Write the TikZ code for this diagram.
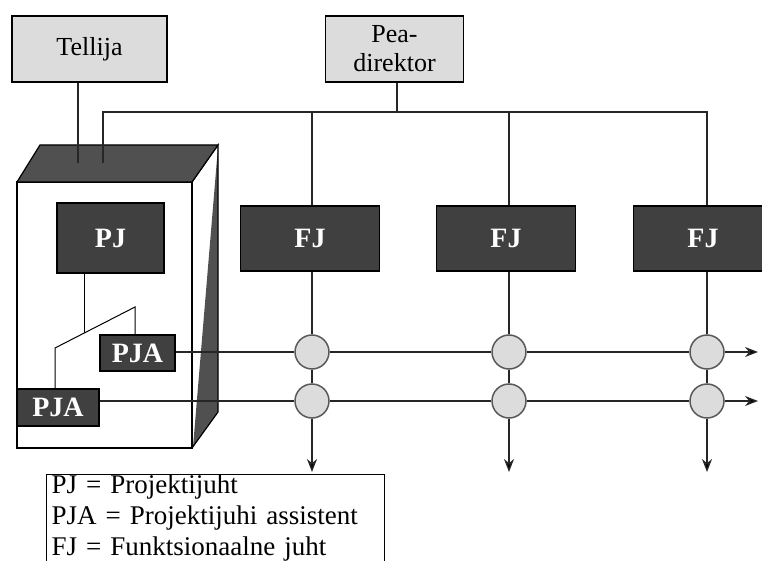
\documentclass[tikz,border=0pt]{standalone}
\usepackage{fontspec}
\setmainfont{Liberation Serif}
\usetikzlibrary{arrows.meta}
\definecolor{lightfill}{HTML}{DCDCDC}
\definecolor{fjfill}{HTML}{404040}
\definecolor{facefill}{HTML}{505050}
\begin{document}
\begin{tikzpicture}[x=1pt, y=-1pt,
	lightbox/.style={draw, line width=1.5pt, fill=lightfill, align=center, inner sep=0pt,
		font=\fontsize{26}{29}\selectfont},
	darkbox/.style={draw, line width=1.2pt, fill=fjfill, text=white, inner sep=0pt,
		font=\fontsize{28}{30}\selectfont\bfseries},
	knot/.style={circle, draw=black!65, line width=1.5pt, fill=lightfill, minimum size=34pt, inner sep=0pt},
	ln/.style={line width=1.3pt, draw=black!85},
	>={Stealth[length=13pt, width=10pt]}]
		\useasboundingbox (0,0) rectangle (762,561);
		\clip (0,0) rectangle (762,561);
		% top boxes
		\node [lightbox, minimum width=155pt, minimum height=66pt] (tellija) at (89.5,49) {Tellija};
		\node [lightbox, minimum width=138pt, minimum height=66pt] (pea) at (394.5,49) {Pea-\\direktor};
		% project box
		\fill[white] (17,182) rectangle (192,448);
		\fill[facefill] (218,147) -- (218,412) -- (193,447) -- cycle;
		\draw[line width=1.2pt] (17,182) rectangle (192,448);
		\draw[line width=1.2pt] (192,182) -- (218,145) -- (218,412) -- (192,448);
		\filldraw[fill=facefill, line width=1.2pt] (17,182) -- (40,145) -- (218,145) -- (192,182) -- cycle;
		\node [darkbox, minimum width=107pt, minimum height=70pt] (pj) at (110.5,238) {PJ};
		\node [darkbox, minimum width=75pt, minimum height=36pt] (pja1) at (137.5,353) {PJA};
		\node [darkbox, minimum width=82pt, minimum height=37pt] (pja2) at (58,407.5) {PJA};
		% functional managers
		\node [darkbox, minimum width=139pt, minimum height=65pt] (fj1) at (310,238.5) {FJ};
		\node [darkbox, minimum width=139pt, minimum height=65pt] (fj2) at (506,238.5) {FJ};
		\node [darkbox, minimum width=139pt, minimum height=65pt] (fj3) at (703,238.5) {FJ};
		\node [knot] (k11) at (312,352) {};
		\node [knot] (k12) at (509,352) {};
		\node [knot] (k13) at (707,352) {};
		\node [knot] (k21) at (312,401) {};
		\node [knot] (k22) at (509,401) {};
		\node [knot] (k23) at (707,401) {};
		% free ends
		\coordinate (tt) at (78,163);
		\coordinate (tb) at (103,163);
		\coordinate (tl) at (103,112);
		\coordinate (t1) at (312,112);
		\coordinate (t2) at (509,112);
		\coordinate (t3) at (707,112);
		\coordinate (p1) at (84,333);
		\coordinate (p2) at (55,348);
		\coordinate (p3) at (135,307);
		\coordinate (r1) at (758,352);
		\coordinate (r2) at (758,401);
		\coordinate (d1) at (312,472);
		\coordinate (d2) at (509,472);
		\coordinate (d3) at (707,472);
		% lines
		\draw[ln] (tellija.south -| tt) -- (tt);
		\draw[ln] (tb) -- (tl) -- (t3) -- (fj3.north -| t3);
		\draw[ln] (pea.south -| 397,0) -- (397,112);
		\draw[ln] (t1) -- (fj1.north -| t1);
		\draw[ln] (t2) -- (fj2.north -| t2);
		\draw[line width=1pt] (pj.south -| p1) -- (p1);
		\draw[line width=1pt] (pja2.north -| p2) -- (p2) -- (p3) -- (pja1.north -| p3);
		\path[ln]
					(pja1.east |- k11) edge (k11)
					(k11) edge (k12)
					(k12) edge (k13)
					(k13) edge[->] (r1)
					(pja2.east |- k21) edge (k21)
					(k21) edge (k22)
					(k22) edge (k23)
					(k23) edge[->] (r2)
					(fj1.south -| k11) edge (k11)
					(k11) edge (k21)
					(k21) edge[->] (d1)
					(fj2.south -| k12) edge (k12)
					(k12) edge (k22)
					(k22) edge[->] (d2)
					(fj3.south -| k13) edge (k13)
					(k13) edge (k23)
					(k23) edge[->] (d3);
		% legend
		\node [draw, line width=1.2pt, fill=white, anchor=north west, align=left, text width=328pt,
			inner xsep=5pt, inner ysep=0pt, font=\fontsize{27}{31}\selectfont] (legende) at (46,474)
			{PJ = Projektijuht\\PJA = Projektijuhi assistent\\FJ = Funktsionaalne juht\\\mbox{}};
	\end{tikzpicture}
\end{document}
